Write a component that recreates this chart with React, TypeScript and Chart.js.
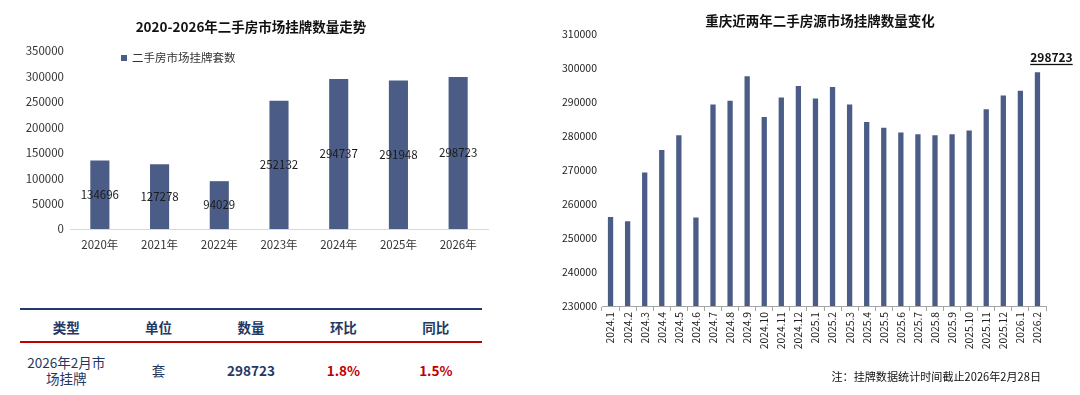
import React, { useEffect, useRef } from "react";
import { Chart, registerables } from "chart.js";

Chart.register(...registerables);

// ---------- data ----------
const yearLabels = ["2020年", "2021年", "2022年", "2023年", "2024年", "2025年", "2026年"];
const yearValues = [134696, 127278, 94029, 252132, 294737, 291948, 298723];
const yearSeriesName = "二手房市场挂牌套数";

const monthLabels = [
  "2024.1", "2024.2", "2024.3", "2024.4", "2024.5", "2024.6", "2024.7", "2024.8", "2024.9",
  "2024.10", "2024.11", "2024.12", "2025.1", "2025.2", "2025.3", "2025.4", "2025.5", "2025.6",
  "2025.7", "2025.8", "2025.9", "2025.10", "2025.11", "2025.12", "2026.1", "2026.2",
];
const monthValues = [
  256200, 254900, 269300, 275900, 280200, 256000, 289300, 290400, 297600,
  285600, 291300, 294700, 291000, 294400, 289300, 284100, 282400, 281000,
  280500, 280200, 280500, 281600, 287900, 291900, 293300, 298723,
];

const leftTitle = "2020-2026年二手房市场挂牌数量走势";
const rightTitle = "重庆近两年二手房源市场挂牌数量变化";
const noteText = "注：挂牌数据统计时间截止2026年2月28日";

const tableHeaders = ["类型", "单位", "数量", "环比", "同比"];
const tableRow = ["2026年2月市\n场挂牌", "套", "298723", "1.8%", "1.5%"];

// ---------- styles ----------
const FONT = "'Noto Sans CJK SC', 'Noto Sans', sans-serif";
const BAR = "#4b5d87";
const NAVY = "#1f3864";
const RED = "#c00000";
const TEXT = "#333333";

const plainTick = (v: any) => String(v);

const valueLabelPlugin = {
  id: "valueLabels",
  afterDatasetsDraw(chart: any) {
    const { ctx } = chart;
    const meta = chart.getDatasetMeta(0);
    const data = chart.data.datasets[0].data as number[];
    ctx.save();
    ctx.font = `11.5px ${FONT}`;
    ctx.fillStyle = "#1a1a1a";
    ctx.textAlign = "center";
    ctx.textBaseline = "middle";
    meta.data.forEach((el: any, i: number) => {
      const y = (el.y + el.base) / 2;
      ctx.fillText(String(data[i]), el.x, y);
    });
    ctx.restore();
  },
};

const insideLegendPlugin = {
  id: "insideLegend",
  afterDraw(chart: any) {
    const { ctx, chartArea } = chart;
    const ds = chart.data.datasets[0];
    const cy = chartArea.top + 7;
    ctx.save();
    ctx.fillStyle = ds.backgroundColor;
    ctx.fillRect(chartArea.left + 51, cy - 3, 6, 6);
    ctx.font = `11.5px ${FONT}`;
    ctx.fillStyle = TEXT;
    ctx.textAlign = "left";
    ctx.textBaseline = "middle";
    ctx.fillText(ds.label, chartArea.left + 62, cy);
    ctx.restore();
  },
};

const lastValuePlugin = {
  id: "lastValue",
  afterDatasetsDraw(chart: any) {
    const { ctx } = chart;
    const meta = chart.getDatasetMeta(0);
    const data = chart.data.datasets[0].data as number[];
    const i = data.length - 1;
    const el: any = meta.data[i];
    if (!el) return;
    const text = String(data[i]);
    const x = el.x + 14;
    const y = el.y - 10;
    ctx.save();
    ctx.font = `bold 12px ${FONT}`;
    ctx.fillStyle = "#111";
    ctx.textAlign = "center";
    ctx.textBaseline = "alphabetic";
    ctx.fillText(text, x, y);
    const w = ctx.measureText(text).width;
    ctx.fillRect(x - w / 2, y + 1.5, w, 1.3);
    ctx.restore();
  },
};

function LeftChart() {
  const ref = useRef<HTMLCanvasElement | null>(null);
  useEffect(() => {
    if (!ref.current) return;
    const chart = new Chart(ref.current, {
      type: "bar",
      data: {
        labels: yearLabels,
        datasets: [
          {
            label: yearSeriesName,
            data: yearValues,
            backgroundColor: BAR,
            barPercentage: 0.32,
            categoryPercentage: 1,
          },
        ],
      },
      options: {
        animation: false,
        responsive: false,
        maintainAspectRatio: false,
        layout: { padding: { top: 51, right: 52, left: 0, bottom: 0 } },
        plugins: {
          legend: { display: false },
          title: { display: false },
          tooltip: { enabled: false },
        },
        scales: {
          x: {
            grid: { display: false, drawTicks: false },
            border: { display: true, color: "#d9d9d9", width: 1 },
            ticks: { color: TEXT, font: { family: FONT, size: 11.5 }, padding: 9 },
            afterFit: (s: any) => {
              s.height = 31;
            },
          },
          y: {
            min: 0,
            max: 350000,
            grid: { display: false, drawTicks: false },
            border: { display: false },
            ticks: {
              stepSize: 50000,
              color: TEXT,
              font: { family: FONT, size: 11.5 },
              padding: 6,
              callback: plainTick,
            },
            afterFit: (s: any) => {
              s.width = 70;
            },
          },
        },
      } as any,
      plugins: [valueLabelPlugin, insideLegendPlugin],
    });
    return () => chart.destroy();
  }, []);
  return <canvas ref={ref} width={540} height={260} style={{ display: "block" }} />;
}

function RightChart() {
  const ref = useRef<HTMLCanvasElement | null>(null);
  useEffect(() => {
    if (!ref.current) return;
    const chart = new Chart(ref.current, {
      type: "bar",
      data: {
        labels: monthLabels,
        datasets: [
          {
            label: "挂牌数量",
            data: monthValues,
            backgroundColor: BAR,
            barPercentage: 0.31,
            categoryPercentage: 1,
          },
        ],
      },
      options: {
        animation: false,
        responsive: false,
        maintainAspectRatio: false,
        layout: { padding: { top: 34, right: 34, left: 0, bottom: 0 } },
        plugins: {
          legend: { display: false },
          title: { display: false },
          tooltip: { enabled: false },
        },
        scales: {
          x: {
            grid: {
              display: true,
              drawOnChartArea: false,
              drawTicks: true,
              tickLength: 5,
              color: "#a6a6a6",
              offset: true,
            },
            border: { display: true, color: "#a6a6a6", width: 1 },
            ticks: {
              autoSkip: false,
              minRotation: 90,
              maxRotation: 90,
              padding: 1,
              color: "#222",
              font: { family: FONT, size: 10.3 },
            },
            afterFit: (s: any) => {
              s.height = 89;
            },
          },
          y: {
            min: 230000,
            max: 310000,
            grid: { display: false, drawTicks: false },
            border: { display: false },
            ticks: {
              stepSize: 10000,
              color: "#222",
              font: { family: FONT, size: 10.5 },
              padding: 5,
              callback: plainTick,
            },
            afterFit: (s: any) => {
              s.width = 62;
            },
          },
        },
      } as any,
      plugins: [lastValuePlugin],
    });
    return () => chart.destroy();
  }, []);
  return <canvas ref={ref} width={540} height={395} style={{ display: "block" }} />;
}

function Table() {
  const left = 20;
  const width = 462;
  const colW = width / tableHeaders.length;
  const rowColors = [NAVY, NAVY, NAVY, RED, RED];
  const rowBold = [false, false, true, true, true];
  return (
    <>
      <div style={{ position: "absolute", left, top: 308, width, height: 2, background: "#1f3a6b" }} />
      <div style={{ position: "absolute", left, top: 341, width, height: 2, background: RED }} />
      {tableHeaders.map((h, i) => (
        <div
          key={"h" + i}
          style={{
            position: "absolute",
            left: left + i * colW,
            width: colW,
            top: 317,
            height: 20,
            lineHeight: "20px",
            textAlign: "center",
            fontWeight: "bold",
            fontSize: 13.5,
            color: NAVY,
          }}
        >
          {h}
        </div>
      ))}
      {tableRow.map((c, i) => {
        const lines = c.split("\n");
        const lh = 16;
        const top = 369.5 - (lines.length * lh) / 2;
        return (
          <div
            key={"d" + i}
            style={{
              position: "absolute",
              left: left + i * colW,
              width: colW,
              top,
              lineHeight: lh + "px",
              textAlign: "center",
              fontWeight: rowBold[i] ? "bold" : "normal",
              fontSize: 13.5,
              color: rowColors[i],
            }}
          >
            {lines.map((l, j) => (
              <div key={j}>{l}</div>
            ))}
          </div>
        );
      })}
    </>
  );
}

export default function App() {
  return (
    <div
      style={{
        position: "absolute",
        left: 0,
        top: 0,
        width: 1080,
        height: 395,
        background: "#ffffff",
        overflow: "hidden",
        fontFamily: FONT,
      }}
    >
      <div style={{ position: "absolute", left: 0, top: 0 }}>
        <LeftChart />
      </div>
      <div style={{ position: "absolute", left: 540, top: 0 }}>
        <RightChart />
      </div>
      <div
        style={{
          position: "absolute",
          left: 51,
          width: 400,
          top: 16,
          height: 20,
          lineHeight: "20px",
          textAlign: "center",
          fontWeight: "bold",
          fontSize: 13.5,
          color: "#111",
        }}
      >
        {leftTitle}
      </div>
      <div
        style={{
          position: "absolute",
          left: 620,
          width: 400,
          top: 10,
          height: 20,
          lineHeight: "20px",
          textAlign: "center",
          fontWeight: "bold",
          fontSize: 13.5,
          color: "#111",
        }}
      >
        {rightTitle}
      </div>
      <div
        style={{
          position: "absolute",
          right: 1080 - 1041,
          top: 367,
          height: 18,
          lineHeight: "18px",
          fontSize: 11.1,
          color: "#111",
          whiteSpace: "nowrap",
        }}
      >
        {noteText}
      </div>
      <Table />
    </div>
  );
}
